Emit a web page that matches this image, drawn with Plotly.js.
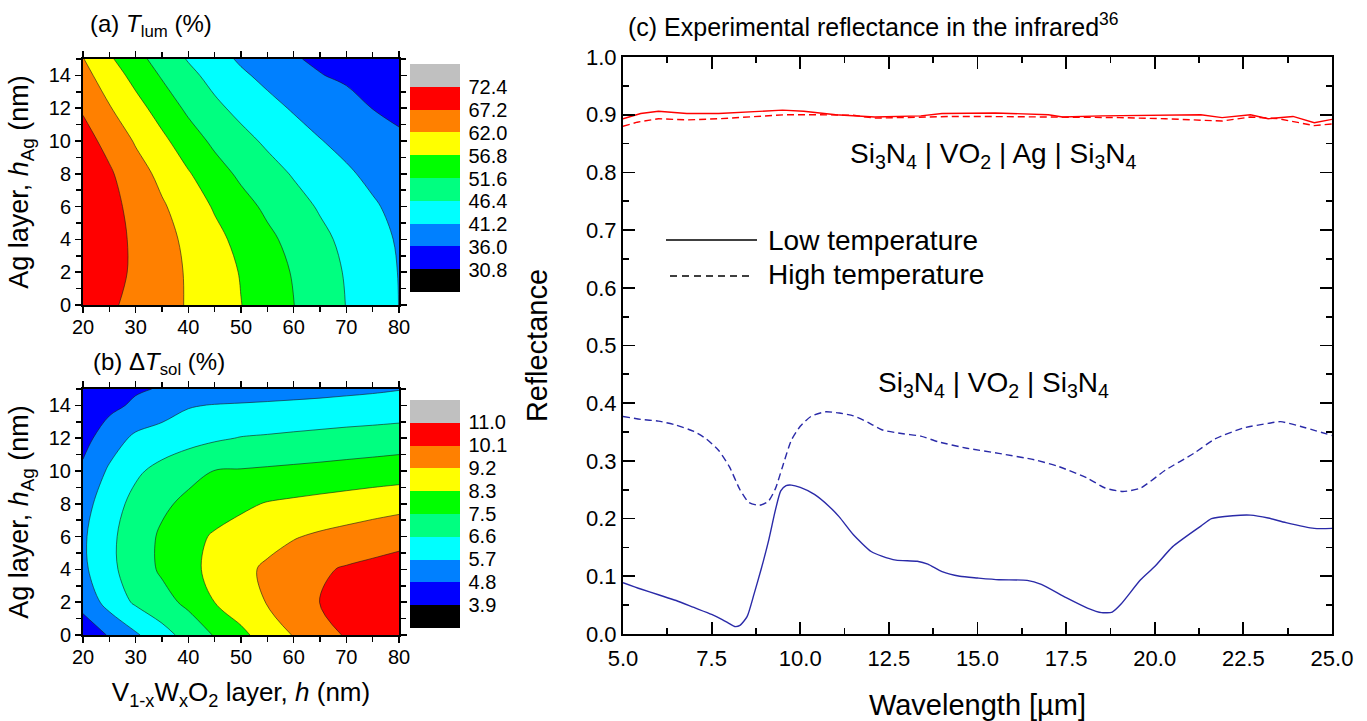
<!DOCTYPE html>
<html>
<head>
<meta charset="utf-8">
<script src="https://cdn.plot.ly/plotly-3.0.1.min.js"></script>
<style>html,body{margin:0;padding:0;background:#fff}#chart{width:1367px;height:721px}</style>
</head>
<body>
<div id="chart"></div>
<script>
// ---------- DATA ----------
// Contour grids: V1-xWxO2 layer thickness h (nm) vs Ag layer thickness hAg (nm)
const layerH = [20, 25, 30, 35, 40, 45, 50, 55, 60, 65, 70, 75, 80];
const agH = [0, 2, 4, 6, 8, 10, 12, 14, 15];

// (a) luminous transmittance T_lum (%), rows follow agH, columns follow layerH
const tLum = [
  [70.0, 67.95, 65.86, 63.76, 61.62, 59.26, 56.89, 54.28, 51.66, 48.97, 46.30, 43.72, 41.15],
  [71.2, 68.87, 66.41, 63.96, 61.51, 59.03, 56.53, 53.88, 51.23, 48.61, 46.00, 43.53, 41.05],
  [71.5, 69.02, 66.34, 63.66, 60.94, 58.14, 55.39, 52.68, 50.10, 47.60, 45.22, 42.96, 40.70],
  [71.2, 68.73, 65.67, 62.61, 59.46, 56.33, 53.37, 50.64, 48.23, 45.91, 43.86, 41.82, 39.77],
  [70.4, 67.86, 64.20, 60.63, 57.21, 53.71, 50.65, 48.29, 45.99, 43.96, 41.93, 40.03, 38.20],
  [69.0, 65.73, 61.50, 57.94, 54.04, 50.56, 47.96, 45.57, 43.49, 41.41, 39.77, 38.19, 36.60],
  [66.7, 62.35, 58.63, 54.60, 50.61, 47.51, 44.98, 42.76, 40.71, 39.09, 37.46, 35.93, 35.20],
  [63.6, 59.45, 55.15, 51.12, 47.70, 44.72, 42.01, 39.89, 38.02, 36.15, 35.34, 34.62, 33.90],
  [62.19, 57.54, 53.28, 49.49, 46.05, 43.13, 40.49, 38.39, 36.30, 35.40, 34.70, 34.00, 33.30]
];
const tLumLevels = [30.8, 36.0, 41.2, 46.4, 51.6, 56.8, 62.0, 67.2, 72.4];
const tLumLabels = ['30.8', '36.0', '41.2', '46.4', '51.6', '56.8', '62.0', '67.2', '72.4'];

// (b) solar modulation ΔT_sol (%)
const dTsol = [
  [4.30, 4.85, 5.56, 6.24, 6.88, 7.51, 8.14, 8.72, 9.27, 9.76, 10.19, 10.49, 10.80],
  [5.05, 6.01, 6.69, 7.14, 7.65, 8.34, 8.81, 9.27, 9.70, 10.12, 10.33, 10.54, 10.75],
  [5.50, 6.35, 7.00, 7.58, 8.11, 8.57, 9.00, 9.37, 9.68, 9.99, 10.20, 10.35, 10.50],
  [5.55, 6.37, 7.02, 7.58, 8.05, 8.44, 8.68, 8.93, 9.17, 9.35, 9.50, 9.65, 9.80],
  [5.35, 6.18, 6.82, 7.30, 7.64, 7.91, 8.18, 8.39, 8.50, 8.61, 8.72, 8.84, 8.95],
  [4.95, 5.80, 6.42, 6.83, 7.20, 7.47, 7.51, 7.57, 7.63, 7.69, 7.76, 7.83, 7.90],
  [4.50, 5.25, 5.85, 6.05, 6.25, 6.45, 6.60, 6.66, 6.73, 6.80, 6.87, 6.93, 7.00],
  [4.20, 4.57, 4.93, 5.27, 5.61, 5.72, 5.77, 5.82, 5.87, 5.91, 5.96, 6.00, 6.05],
  [4.05, 4.37, 4.69, 4.85, 4.94, 5.03, 5.12, 5.20, 5.29, 5.38, 5.47, 5.55, 5.64]
];
const dTsolLevels = [3.9, 4.7875, 5.675, 6.5625, 7.45, 8.3375, 9.225, 10.1125, 11.0];
const dTsolLabels = ['3.9', '4.8', '5.7', '6.6', '7.5', '8.3', '9.2', '10.1', '11.0'];

// (c) experimental IR reflectance
const wlLowAg = [5.0, 5.5, 6.0, 6.8, 7.7, 8.7, 9.5, 10.1, 11.0, 12.1, 13.4, 14.0, 15.0, 15.5, 17.0, 17.4, 18.5, 19.4, 20.5, 21.3, 21.9, 22.7, 23.2, 23.9, 24.5, 25.0];
const rLowAg = [0.893, 0.902, 0.906, 0.902, 0.902, 0.905, 0.908, 0.906, 0.900, 0.896, 0.898, 0.902, 0.903, 0.903, 0.900, 0.896, 0.898, 0.899, 0.899, 0.900, 0.895, 0.900, 0.893, 0.897, 0.886, 0.892];
const wlHighAg = [5.0, 5.4, 6.0, 6.8, 7.7, 8.7, 9.6, 10.5, 11.5, 12.1, 13.4, 14.3, 15.0, 17.5, 19.0, 20.3, 21.9, 22.7, 23.5, 24.5, 25.0];
const rHighAg = [0.880, 0.887, 0.893, 0.891, 0.893, 0.897, 0.900, 0.900, 0.899, 0.894, 0.896, 0.897, 0.897, 0.896, 0.895, 0.893, 0.889, 0.896, 0.893, 0.881, 0.884];
const wlLowNoAg = [5.0, 5.5, 6.0, 6.5, 7.0, 7.5, 7.8, 8.0, 8.15, 8.3, 8.5, 8.7, 8.9, 9.1, 9.3, 9.45, 9.6, 9.75, 10.0, 10.4, 10.8, 11.1, 11.5, 12.0, 12.3, 12.7, 13.3, 13.6, 14.0, 14.5, 15.0, 15.6, 16.4, 16.8, 17.5, 18.1, 18.5, 18.8, 19.05, 19.6, 20.0, 20.5, 21.3, 21.6, 22.2, 22.7, 23.2, 23.7, 24.5, 25.0];
const rLowNoAg = [0.089, 0.078, 0.068, 0.058, 0.046, 0.034, 0.025, 0.018, 0.013, 0.015, 0.030, 0.070, 0.113, 0.160, 0.215, 0.248, 0.257, 0.258, 0.254, 0.242, 0.222, 0.203, 0.172, 0.143, 0.135, 0.128, 0.126, 0.121, 0.108, 0.100, 0.097, 0.094, 0.093, 0.086, 0.063, 0.045, 0.037, 0.038, 0.052, 0.094, 0.117, 0.151, 0.187, 0.200, 0.205, 0.206, 0.201, 0.193, 0.183, 0.183];
const wlHighNoAg = [5.0, 5.5, 6.0, 6.5, 7.0, 7.35, 7.7, 8.0, 8.3, 8.55, 8.85, 9.1, 9.3, 9.5, 9.75, 10.0, 10.3, 10.7, 11.1, 11.5, 11.9, 12.3, 12.9, 13.4, 13.9, 14.7, 15.6, 16.6, 17.3, 18.1, 18.6, 19.1, 19.6, 20.3, 21.1, 21.7, 22.5, 23.2, 23.55, 24.1, 25.0];
const rHighNoAg = [0.377, 0.372, 0.369, 0.362, 0.351, 0.338, 0.318, 0.290, 0.250, 0.228, 0.223, 0.230, 0.252, 0.290, 0.336, 0.360, 0.377, 0.385, 0.383, 0.378, 0.367, 0.354, 0.347, 0.343, 0.333, 0.322, 0.313, 0.302, 0.290, 0.270, 0.253, 0.247, 0.253, 0.284, 0.313, 0.338, 0.357, 0.365, 0.368, 0.360, 0.344];

const legendNames = ['Low temperature', 'High temperature'];

// ---------- STYLE ----------
const FONT = 'Liberation Sans, Arial, Helvetica, sans-serif';
const palette = ['#000000', '#0000ff', '#0080ff', '#00ffff', '#00ff80',
                 '#00ff00', '#ffff00', '#ff8000', '#ff0000', '#c0c0c0'];
// scale evaluated at band centres (contour fills)
const bandScale = palette.map((c, i) => [i / (palette.length - 1), c]);
// stepped scale for the colour bar (10 equal blocks)
const stepScale = [];
palette.forEach((c, i) => {
  stepScale.push([i / palette.length, c]);
  stepScale.push([(i + 1) / palette.length, c]);
});

function contourSet(z, levels, labels, xa, ya, cbY) {
  const start = levels[0], end = levels[levels.length - 1];
  const size = (end - start) / (levels.length - 1);
  // heatmap lying under the contour fills only supplies the discrete colour bar
  const bar = {
    type: 'heatmap', x: layerH, y: agH, z: z, xaxis: xa, yaxis: ya,
    zmin: start - size, zmax: end + size, colorscale: stepScale, hoverinfo: 'skip',
    colorbar: {
      x: 410 / 1367, xanchor: 'left', y: cbY, yanchor: 'middle',
      len: 228, lenmode: 'pixels', thickness: 50, thicknessmode: 'pixels',
      xpad: 0, ypad: 0, outlinewidth: 0,
      ticks: 'outside', ticklen: 5, tickcolor: 'rgba(0,0,0,0)',
      tickvals: levels, ticktext: labels,
      tickfont: {family: FONT, size: 20, color: '#000'}
    }
  };
  const fill = {
    type: 'contour', x: layerH, y: agH, z: z, xaxis: xa, yaxis: ya,
    colorscale: bandScale, hoverinfo: 'skip', showscale: false,
    contours: {start: start, end: end, size: size, coloring: 'fill', showlines: false},
    line: {smoothing: 1, width: 0}
  };
  const lines = {
    type: 'contour', x: layerH, y: agH, z: z, xaxis: xa, yaxis: ya,
    showscale: false, hoverinfo: 'skip',
    contours: {start: start, end: end, size: size, coloring: 'none'},
    line: {color: '#1a1a1a', width: 0.6, smoothing: 1}
  };
  return [bar, fill, lines];
}

const traces = [
  ...contourSet(tLum, tLumLevels, tLumLabels, 'x', 'y', 1 - 178.5 / 721),
  ...contourSet(dTsol, dTsolLevels, dTsolLabels, 'x2', 'y2', 1 - 513.5 / 721),
  {type: 'scatter', mode: 'lines', x: wlLowAg, y: rLowAg, xaxis: 'x3', yaxis: 'y3',
   line: {color: '#ff0000', width: 1.4}, showlegend: false},
  {type: 'scatter', mode: 'lines', x: wlHighAg, y: rHighAg, xaxis: 'x3', yaxis: 'y3',
   line: {color: '#ff0000', width: 1.4, dash: '7px,4px'}, showlegend: false},
  {type: 'scatter', mode: 'lines', x: wlLowNoAg, y: rLowNoAg, xaxis: 'x3', yaxis: 'y3',
   line: {color: '#2a2aa8', width: 1.4, shape: 'spline', smoothing: 0.6}, showlegend: false},
  {type: 'scatter', mode: 'lines', x: wlHighNoAg, y: rHighNoAg, xaxis: 'x3', yaxis: 'y3',
   line: {color: '#2a2aa8', width: 1.4, dash: '7px,4px', shape: 'spline', smoothing: 0.6}, showlegend: false}
];

function leftX(anchor, title) {
  const ax = {
    domain: [83 / 1367, 399 / 1367], anchor: anchor, range: [20, 80],
    tick0: 20, dtick: 10, ticks: 'outside', ticklen: 6, tickwidth: 1.5, tickcolor: '#000',
    minor: {dtick: 5, ticks: 'outside', ticklen: 5, tickwidth: 1.5, tickcolor: '#000'},
    showline: true, linewidth: 2, linecolor: '#000', mirror: 'ticks',
    showgrid: false, zeroline: false, ticklabelstandoff: -3,
    tickfont: {family: FONT, size: 20, color: '#000'}
  };
  if (title) ax.title = {text: title, font: {family: FONT, size: 26, color: '#000'}, standoff: 16};
  return ax;
}
function leftY(domain, anchor) {
  return {
    domain: domain, anchor: anchor, range: [0, 15],
    tick0: 0, dtick: 2, ticks: 'outside', ticklen: 6, tickwidth: 1.5, tickcolor: '#000',
    minor: {dtick: 1, ticks: 'outside', ticklen: 5, tickwidth: 1.5, tickcolor: '#000'},
    showline: true, linewidth: 2, linecolor: '#000', mirror: 'ticks',
    showgrid: false, zeroline: false,
    tickfont: {family: FONT, size: 20, color: '#000'},
    title: {text: 'Ag layer, <i>h</i><sub>Ag</sub> (nm)', font: {family: FONT, size: 27, color: '#000'}, standoff: 12}
  };
}

const layout = {
  width: 1367, height: 721,
  margin: {l: 0, r: 0, t: 0, b: 0, autoexpand: false},
  paper_bgcolor: '#fff', plot_bgcolor: '#fff',
  font: {family: FONT, color: '#000'},
  showlegend: false,
  xaxis: leftX('y', null),
  yaxis: leftY([1 - 305 / 721, 1 - 59 / 721], 'x'),
  xaxis2: leftX('y2', 'V<sub>1-x</sub>W<sub>x</sub>O<sub>2</sub> layer, <i>h</i> (nm)'),
  yaxis2: leftY([1 - 635 / 721, 1 - 389 / 721], 'x2'),
  xaxis3: {
    domain: [623 / 1367, 1332 / 1367], anchor: 'y3', range: [5, 25],
    tick0: 5, dtick: 2.5, tickformat: '.1f',
    ticks: 'inside', ticklen: 12, tickwidth: 1.8, tickcolor: '#000',
    minor: {dtick: 1.25, ticks: 'inside', ticklen: 6, tickwidth: 1.8, tickcolor: '#000'},
    showline: true, linewidth: 2, linecolor: '#000', mirror: 'ticks',
    showgrid: false, zeroline: false, ticklabelstandoff: 4,
    tickfont: {family: FONT, size: 22, color: '#000'},
    title: {text: 'Wavelength [µm]', font: {family: FONT, size: 29, color: '#000'}, standoff: 28}
  },
  yaxis3: {
    domain: [1 - 634 / 721, 1 - 57 / 721], anchor: 'x3', range: [0, 1],
    tick0: 0, dtick: 0.1, tickformat: '.1f',
    ticks: 'inside', ticklen: 12, tickwidth: 1.8, tickcolor: '#000',
    minor: {dtick: 0.05, ticks: 'inside', ticklen: 6, tickwidth: 1.8, tickcolor: '#000'},
    showline: true, linewidth: 2, linecolor: '#000', mirror: 'ticks',
    showgrid: false, zeroline: false,
    tickfont: {family: FONT, size: 22, color: '#000'},
    title: {text: 'Reflectance', font: {family: FONT, size: 29, color: '#000'}, standoff: 30}
  },
  shapes: [
    {type: 'line', xref: 'paper', yref: 'paper', x0: 666 / 1367, x1: 757 / 1367,
     y0: 1 - 240 / 721, y1: 1 - 240 / 721, line: {color: '#000', width: 1.4}},
    {type: 'line', xref: 'paper', yref: 'paper', x0: 670 / 1367, x1: 752 / 1367,
     y0: 1 - 276 / 721, y1: 1 - 276 / 721, line: {color: '#000', width: 1.4, dash: '7px,5px'}}
  ],
  annotations: [
    {xref: 'paper', yref: 'paper', x: 88 / 1367, y: 1 - 26 / 721, xanchor: 'left', yanchor: 'middle',
     showarrow: false, text: '(a) <i>T</i><sub>lum</sub> (%)', font: {family: FONT, size: 24, color: '#000'}},
    {xref: 'paper', yref: 'paper', x: 91 / 1367, y: 1 - 363 / 721, xanchor: 'left', yanchor: 'middle',
     showarrow: false, text: '(b) Δ<i>T</i><sub>sol</sub> (%)', font: {family: FONT, size: 24, color: '#000'}},
    {xref: 'paper', yref: 'paper', x: 626 / 1367, y: 1 - 25 / 721, xanchor: 'left', yanchor: 'middle',
     showarrow: false, text: '(c) Experimental reflectance in the infrared<sup>36</sup>', font: {family: FONT, size: 25, color: '#000'}},
    {xref: 'paper', yref: 'paper', x: 993 / 1367, y: 1 - 155 / 721, xanchor: 'center', yanchor: 'middle',
     showarrow: false, text: 'Si<sub>3</sub>N<sub>4</sub> | VO<sub>2</sub> | Ag | Si<sub>3</sub>N<sub>4</sub>', font: {family: FONT, size: 28, color: '#000'}},
    {xref: 'paper', yref: 'paper', x: 993 / 1367, y: 1 - 384 / 721, xanchor: 'center', yanchor: 'middle',
     showarrow: false, text: 'Si<sub>3</sub>N<sub>4</sub> | VO<sub>2</sub> | Si<sub>3</sub>N<sub>4</sub>', font: {family: FONT, size: 28, color: '#000'}},
    {xref: 'paper', yref: 'paper', x: 766 / 1367, y: 1 - 240 / 721, xanchor: 'left', yanchor: 'middle',
     showarrow: false, text: legendNames[0], font: {family: FONT, size: 28, color: '#000'}},
    {xref: 'paper', yref: 'paper', x: 766 / 1367, y: 1 - 274 / 721, xanchor: 'left', yanchor: 'middle',
     showarrow: false, text: legendNames[1], font: {family: FONT, size: 28, color: '#000'}}
  ]
};

Plotly.newPlot('chart', traces, layout, {displayModeBar: false, staticPlot: true});
</script>
</body>
</html>
